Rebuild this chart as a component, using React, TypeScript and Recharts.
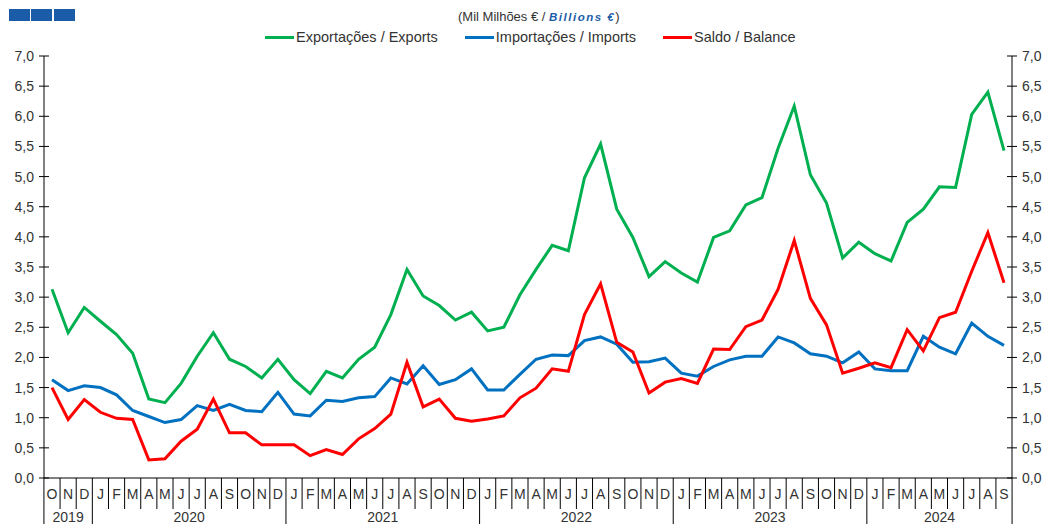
import React from "react";
import { LineChart, Line, XAxis, YAxis } from "recharts";

// Oct 2019 .. Sep 2024, monthly (mil milhões €)
const monthLetters = [
  "O", "N", "D",
  "J", "F", "M", "A", "M", "J", "J", "A", "S", "O", "N", "D",
  "J", "F", "M", "A", "M", "J", "J", "A", "S", "O", "N", "D",
  "J", "F", "M", "A", "M", "J", "J", "A", "S", "O", "N", "D",
  "J", "F", "M", "A", "M", "J", "J", "A", "S", "O", "N", "D",
  "J", "F", "M", "A", "M", "J", "J", "A", "S",
];

const yearSpans: [string, number][] = [
  ["2019", 3], ["2020", 12], ["2021", 12], ["2022", 12], ["2023", 12], ["2024", 9],
];

const exportsValues = [
  3.13, 2.41, 2.83,
  2.60, 2.38, 2.07, 1.31, 1.25, 1.57, 2.02, 2.41, 1.97, 1.85, 1.66, 1.97,
  1.63, 1.40, 1.77, 1.66, 1.97, 2.17, 2.71, 3.46, 3.02, 2.86, 2.62, 2.75,
  2.44, 2.50, 3.04, 3.46, 3.86, 3.77, 4.98, 5.54, 4.46, 3.99, 3.34, 3.59,
  3.40, 3.25, 3.99, 4.10, 4.53, 4.65, 5.47, 6.17, 5.03, 4.56, 3.65, 3.91,
  3.72, 3.60, 4.24, 4.46, 4.83, 4.82, 6.03, 6.40, 5.43,
];

const importsValues = [
  1.63, 1.45, 1.53,
  1.50, 1.38, 1.12, 1.02, 0.92, 0.97, 1.20, 1.12, 1.22, 1.12, 1.10, 1.42,
  1.06, 1.03, 1.29, 1.27, 1.33, 1.35, 1.66, 1.56, 1.86, 1.55, 1.63, 1.81,
  1.46, 1.46, 1.72, 1.97, 2.04, 2.03, 2.28, 2.34, 2.22, 1.92, 1.93, 1.99,
  1.74, 1.69, 1.85, 1.96, 2.02, 2.02, 2.34, 2.24, 2.06, 2.02, 1.91, 2.09,
  1.81, 1.78, 1.78, 2.35, 2.17, 2.06, 2.57, 2.35, 2.20,
];

const balanceValues = [
  1.50, 0.97, 1.30,
  1.09, 0.99, 0.97, 0.30, 0.32, 0.61, 0.81, 1.31, 0.75, 0.75, 0.55, 0.55,
  0.55, 0.37, 0.47, 0.39, 0.65, 0.82, 1.06, 1.92, 1.18, 1.31, 0.99, 0.94,
  0.98, 1.03, 1.33, 1.49, 1.81, 1.77, 2.71, 3.22, 2.25, 2.09, 1.41, 1.59,
  1.65, 1.57, 2.14, 2.13, 2.51, 2.62, 3.13, 3.94, 2.98, 2.54, 1.74, 1.82,
  1.91, 1.83, 2.46, 2.11, 2.66, 2.75, 3.43, 4.07, 3.24,
];

const yTicks = [0, 0.5, 1, 1.5, 2, 2.5, 3, 3.5, 4, 4.5, 5, 5.5, 6, 6.5, 7];

const series = [
  { key: "exp", name: "Exportações / Exports", color: "#00b050", axis: "l" },
  { key: "imp", name: "Importações / Imports", color: "#0070c0", axis: "l" },
  // same 0..7 scale, bound to the right axis so it gets its ticks
  { key: "bal", name: "Saldo / Balance", color: "#ff0000", axis: "r" },
];

const FONT = "'Liberation Sans', Arial, sans-serif";
const TXT = "#333";
const W = 1048;
const H = 524;
const PLOT_L = 44;
const PLOT_R = 1012;
const PLOT_T = 56;
const AXIS_H = 46;
const PAD = 8;
const STEP = (PLOT_R - PLOT_L - 2 * PAD) / (monthLetters.length - 1);

const data = monthLetters.map((m, i) => ({
  idx: i,
  m,
  exp: exportsValues[i],
  imp: importsValues[i],
  bal: balanceValues[i],
}));

// index of first month of each year
const yearStarts: Record<number, [string, number]> = {};
{
  let acc = 0;
  yearSpans.forEach((ys) => {
    yearStarts[acc] = ys;
    acc += ys[1];
  });
}

const fmt = (v: number) => v.toFixed(1).replace(".", ",");

const MonthTick = (props: any) => {
  const { x, y, payload } = props;
  const i = payload.value as number;
  const ys = yearStarts[i];
  const last = i === monthLetters.length - 1;
  return (
    <g>
      <line x1={x - STEP / 2} x2={x - STEP / 2} y1={y} y2={ys ? H : y + 31} stroke="#000" strokeWidth={1} />
      {last && <line x1={x + STEP / 2} x2={x + STEP / 2} y1={y} y2={H} stroke="#000" strokeWidth={1} />}
      <text x={x} y={y + 21} textAnchor="middle" fontSize={14} fill={TXT} fontFamily={FONT}>
        {monthLetters[i]}
      </text>
      {ys && (
        <text x={x + (ys[1] / 2 - 0.5) * STEP} y={y + 44} textAnchor="middle" fontSize={14} fill={TXT} fontFamily={FONT}>
          {ys[0]}
        </text>
      )}
    </g>
  );
};

const LeftTick = (props: any) => {
  const { x, y, payload } = props;
  return (
    <g>
      <line x1={x - 5} x2={x + 5} y1={y} y2={y} stroke="#000" />
      <text x={x - 10} y={y + 5} textAnchor="end" fontSize={14} fill={TXT} fontFamily={FONT}>
        {fmt(payload.value)}
      </text>
    </g>
  );
};

const RightTick = (props: any) => {
  const { x, y, payload } = props;
  return (
    <g>
      <line x1={x - 5} x2={x + 5} y1={y} y2={y} stroke="#000" />
      <text x={x + 10} y={y + 5} textAnchor="start" fontSize={14} fill={TXT} fontFamily={FONT}>
        {fmt(payload.value)}
      </text>
    </g>
  );
};

export default function App() {
  return (
    <div style={{ position: "absolute", left: 0, top: 0, width: W, height: H, background: "#fff", fontFamily: FONT }}>
      {/* header squares */}
      {[9, 31, 54].map((l) => (
        <div key={l} style={{ position: "absolute", left: l, top: 9, width: 21, height: 12, background: "#1a5ca8" }} />
      ))}

      <div style={{ position: "absolute", top: 9, left: 458, fontSize: 13, color: TXT, whiteSpace: "nowrap" }}>
        (Mil Milhões € /{" "}
        <span style={{ color: "#1a5ca8", fontWeight: "bold", fontStyle: "italic", fontSize: 11.5, letterSpacing: 1.5 }}>Billions €</span>)
      </div>

      <div style={{ position: "absolute", top: 29, left: 265, display: "flex", fontSize: 14.5, color: TXT, whiteSpace: "nowrap" }}>
        {series.map((s) => (
          <div key={s.key} style={{ display: "flex", alignItems: "center", marginRight: 27 }}>
            <div style={{ width: 29, height: 3, background: s.color, marginRight: 2 }} />
            <span>{s.name}</span>
          </div>
        ))}
      </div>

      <LineChart
        width={W}
        height={H}
        data={data}
        margin={{ top: PLOT_T, right: 0, left: 0, bottom: 0 }}
        style={{ position: "absolute", left: 0, top: 0 }}
      >
        <XAxis
          dataKey="idx"
          type="category"
          interval={0}
          height={AXIS_H}
          padding={{ left: PAD, right: PAD }}
          tickSize={0}
          tickMargin={0}
          tickLine={false}
          axisLine={{ stroke: "#000" }}
          tick={<MonthTick />}
        />
        <YAxis
          yAxisId="l"
          orientation="left"
          width={PLOT_L}
          domain={[0, 7]}
          ticks={yTicks}
          interval={0}
          tickSize={0}
          tickMargin={0}
          tickLine={false}
          axisLine={{ stroke: "#000" }}
          tick={<LeftTick />}
        />
        <YAxis
          yAxisId="r"
          orientation="right"
          width={W - PLOT_R}
          domain={[0, 7]}
          ticks={yTicks}
          interval={0}
          tickSize={0}
          tickMargin={0}
          tickLine={false}
          axisLine={{ stroke: "#000" }}
          tick={<RightTick />}
        />
        {series.map((s) => (
          <Line
            key={s.key}
            yAxisId={s.axis}
            type="linear"
            dataKey={s.key}
            name={s.name}
            stroke={s.color}
            strokeWidth={3}
            dot={false}
            isAnimationActive={false}
          />
        ))}
      </LineChart>
    </div>
  );
}
